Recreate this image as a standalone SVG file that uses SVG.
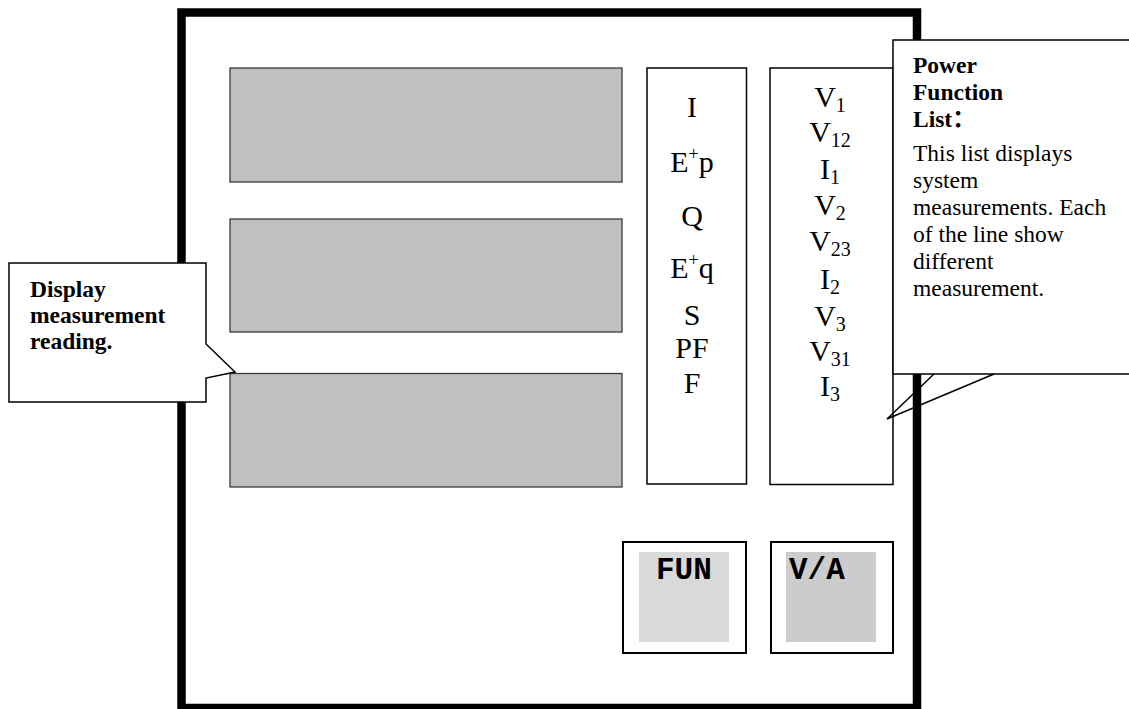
<svg xmlns="http://www.w3.org/2000/svg" width="1129" height="709" viewBox="0 0 1129 709">
<style>
.frame{fill:#ffffff;stroke:#000000;stroke-width:8.5}
.disp{fill:#c0c0c0;stroke:#3a3a3a;stroke-width:1.3}
.col{fill:#ffffff;stroke:#000000;stroke-width:1.5}
.btn{fill:#ffffff;stroke:#000000;stroke-width:2}
.call{fill:#ffffff;stroke:#000000;stroke-width:1.5;stroke-linejoin:miter}
.ptr{fill:none;stroke:#000000;stroke-width:1.5}
.big{font-family:"Liberation Serif","Times New Roman",serif;font-size:30px;fill:#000000;text-anchor:middle}
.sub{font-size:20px}
.sup{font-size:18px}
.note{font-family:"Liberation Serif","Times New Roman","Noto Sans CJK SC",serif;font-size:23.5px;fill:#000000}
.b{font-weight:bold}
.mono{font-family:"Liberation Mono","Courier New",monospace;font-size:31px;font-weight:bold;fill:#000000}
</style>
<rect width="1129" height="709" fill="#ffffff"/>
<g id="frame">
<rect class="frame" x="181.5" y="12.5" width="735.5" height="695.5"/>
</g>
<g id="display1"><rect class="disp" x="230" y="68" width="392" height="114"/></g>
<g id="display2"><rect class="disp" x="230" y="219" width="392" height="113"/></g>
<g id="display3"><rect class="disp" x="230" y="373.5" width="392" height="113.5"/></g>
<g id="list1">
<rect class="col" x="647" y="68" width="99.5" height="416"/>
<text class="big" x="692" y="117">I</text>
<text class="big" x="692" y="172">E<tspan class="sup" dy="-12">+</tspan><tspan dy="12">p</tspan></text>
<text class="big" x="692" y="226">Q</text>
<text class="big" x="692" y="278">E<tspan class="sup" dy="-12">+</tspan><tspan dy="12">q</tspan></text>
<text class="big" x="692" y="325">S</text>
<text class="big" x="692" y="358">PF</text>
<text class="big" x="692" y="393">F</text>
</g>
<g id="list2">
<rect class="col" x="770" y="68" width="123" height="416.5"/>
<text class="big" x="830" y="107">V<tspan class="sub" dy="5">1</tspan></text>
<text class="big" x="830" y="142">V<tspan class="sub" dy="5">12</tspan></text>
<text class="big" x="830" y="179">I<tspan class="sub" dy="5">1</tspan></text>
<text class="big" x="830" y="215">V<tspan class="sub" dy="5">2</tspan></text>
<text class="big" x="830" y="251">V<tspan class="sub" dy="5">23</tspan></text>
<text class="big" x="830" y="289">I<tspan class="sub" dy="5">2</tspan></text>
<text class="big" x="830" y="326">V<tspan class="sub" dy="5">3</tspan></text>
<text class="big" x="830" y="361">V<tspan class="sub" dy="5">31</tspan></text>
<text class="big" x="830" y="396">I<tspan class="sub" dy="5">3</tspan></text>
</g>
<g id="btn-fun">
<rect class="btn" x="623" y="542" width="123" height="111"/>
<rect x="639" y="552" width="90" height="90" fill="#d9d9d9"/>
<text class="mono" x="656" y="579">FUN</text>
</g>
<g id="btn-va">
<rect class="btn" x="771" y="542" width="122" height="111"/>
<rect x="786" y="552" width="90" height="90" fill="#cccccc"/>
<text class="mono" x="789" y="579">V/A</text>
</g>
<g id="callout-display">
<path class="call" d="M9,263 L206,263 L206,344 L235,372 L206,378 L206,402 L9,402 Z"/>
<text class="note b" x="30" y="297">Display</text>
<text class="note b" x="30" y="323">measurement</text>
<text class="note b" x="30" y="349">reading.</text>
</g>
<g id="callout-list">
<path class="call" d="M1135,374 L893,374 L893,40 L1135,40"/>
<polyline class="ptr" points="934,374 887,419 994,374"/>
<text class="note b" x="913" y="73">Power</text>
<text class="note b" x="913" y="100">Function</text>
<text class="note b" x="913" y="127">List：</text>
<text class="note" x="913" y="161">This list displays</text>
<text class="note" x="913" y="188">system</text>
<text class="note" x="913" y="215">measurements. Each</text>
<text class="note" x="913" y="242">of the line show</text>
<text class="note" x="913" y="269">different</text>
<text class="note" x="913" y="296">measurement.</text>
</g>
</svg>
